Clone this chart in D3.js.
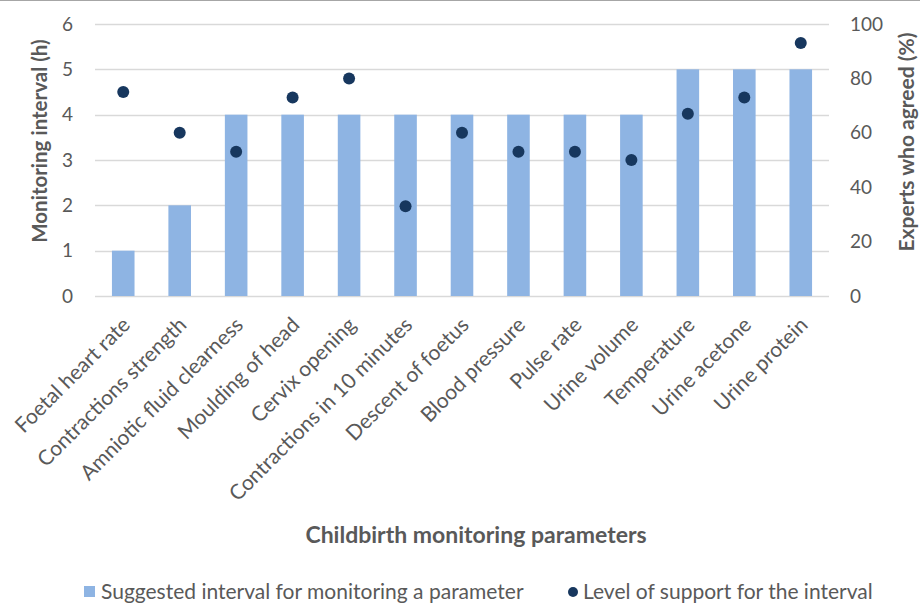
<!DOCTYPE html>
<html>
<head>
<meta charset="utf-8">
<script src="https://cdn.jsdelivr.net/npm/d3@7"></script>
<style>
  html, body { margin: 0; padding: 0; background: #fff; }
  svg text { font-family: Lato, "Open Sans", sans-serif; fill: #595959; }
</style>
</head>
<body>
<svg id="chart" width="920" height="605"></svg>
<script>
// Childbirth monitoring parameters
const categories = [
  "Foetal heart rate", "Contractions strength", "Amniotic fluid clearness",
  "Moulding of head", "Cervix opening", "Contractions in 10 minutes",
  "Descent of foetus", "Blood pressure", "Pulse rate", "Urine volume",
  "Temperature", "Urine acetone", "Urine protein"
];
// Suggested monitoring interval (hours)
const intervalHours = [1, 2, 4, 4, 4, 4, 4, 4, 4, 4, 5, 5, 5];
// Share of experts who agreed with the interval (%)
const agreedPct = [75, 60, 53, 73, 80, 33, 60, 53, 53, 50, 67, 73, 93];
const leftTicks = [0, 1, 2, 3, 4, 5, 6];
const rightTicks = [0, 20, 40, 60, 80, 100];
const seriesNames = ["Suggested interval for monitoring a parameter", "Level of support for the interval"];

const barColor = "#8EB4E3";
const dotColor = "#17375E";
const gridColor = "#D9D9D9";

const svg = d3.select("#chart");
const m = { left: 95, right: 829, top: 24, bottom: 296 };

// frame line along the top
svg.append("line").attr("x1", 0).attr("x2", 920).attr("y1", 0.5).attr("y2", 0.5)
  .attr("stroke", "#A6A6A6").attr("stroke-width", 1);

const x = d3.scaleBand().domain(categories).range([m.left, m.right])
  .paddingInner(0.6).paddingOuter(0.3);
const yL = d3.scaleLinear().domain([0, 6]).range([m.bottom, m.top]);
const yR = d3.scaleLinear().domain([0, 100]).range([m.bottom, m.top]);

// gridlines
svg.append("g").selectAll("line").data(leftTicks).join("line")
  .attr("x1", m.left).attr("x2", m.right)
  .attr("y1", d => Math.round(yL(d)) + 0.5).attr("y2", d => Math.round(yL(d)) + 0.5)
  .attr("stroke", gridColor).attr("stroke-width", 1.3);

// left axis
const axL = svg.append("g").attr("transform", `translate(${m.left - 22},0)`)
  .call(d3.axisLeft(yL).tickValues(leftTicks).tickFormat(d3.format("d")).tickSize(0).tickPadding(0));
axL.select(".domain").remove();
axL.selectAll("text").style("font-size", "19px").attr("fill", "#595959");

// right axis
const axR = svg.append("g").attr("transform", `translate(${m.right + 21},0)`)
  .call(d3.axisRight(yR).tickValues(rightTicks).tickFormat(d3.format("d")).tickSize(0).tickPadding(0));
axR.select(".domain").remove();
axR.selectAll("text").style("font-size", "19px").attr("fill", "#595959");

// bars
svg.append("g").selectAll("rect").data(categories).join("rect")
  .attr("x", d => x(d))
  .attr("width", x.bandwidth())
  .attr("y", (d, i) => yL(intervalHours[i]))
  .attr("height", (d, i) => yL(0) - yL(intervalHours[i]))
  .attr("fill", barColor);

// dots
svg.append("g").selectAll("circle").data(categories).join("circle")
  .attr("cx", d => x(d) + x.bandwidth() / 2)
  .attr("cy", (d, i) => yR(agreedPct[i]))
  .attr("r", 6)
  .attr("fill", dotColor);

// category labels
svg.append("g").selectAll("text").data(categories).join("text")
  .attr("transform", d => `translate(${x(d) + x.bandwidth() / 2 + 3},${m.bottom + 25}) rotate(-45)`)
  .attr("text-anchor", "end")
  .attr("dy", "0.35em")
  .style("font-size", "21px")
  .text(d => d);

// axis titles
svg.append("text")
  .attr("transform", "translate(47,141) rotate(-90)")
  .attr("text-anchor", "middle")
  .style("font-size", "20.5px").style("font-weight", "bold")
  .text("Monitoring interval (h)");
svg.append("text")
  .attr("transform", "translate(899,142) rotate(-90)")
  .attr("text-anchor", "middle")
  .attr("dy", "0.7em")
  .style("font-size", "21px").style("font-weight", "bold")
  .text("Experts who agreed (%)");
svg.append("text")
  .attr("x", 476).attr("y", 543)
  .attr("text-anchor", "middle")
  .style("font-size", "23px").style("font-weight", "bold")
  .text("Childbirth monitoring parameters");

// legend
const lg = svg.append("g");
lg.append("rect").attr("x", 84).attr("y", 586).attr("width", 11).attr("height", 11).attr("fill", barColor);
lg.append("text").attr("x", 101).attr("y", 592).attr("dy", "0.35em").style("font-size", "21px").text(seriesNames[0]);
lg.append("circle").attr("cx", 573).attr("cy", 592).attr("r", 5).attr("fill", dotColor);
lg.append("text").attr("x", 583).attr("y", 592).attr("dy", "0.35em").style("font-size", "21px").text(seriesNames[1]);
</script>
</body>
</html>
